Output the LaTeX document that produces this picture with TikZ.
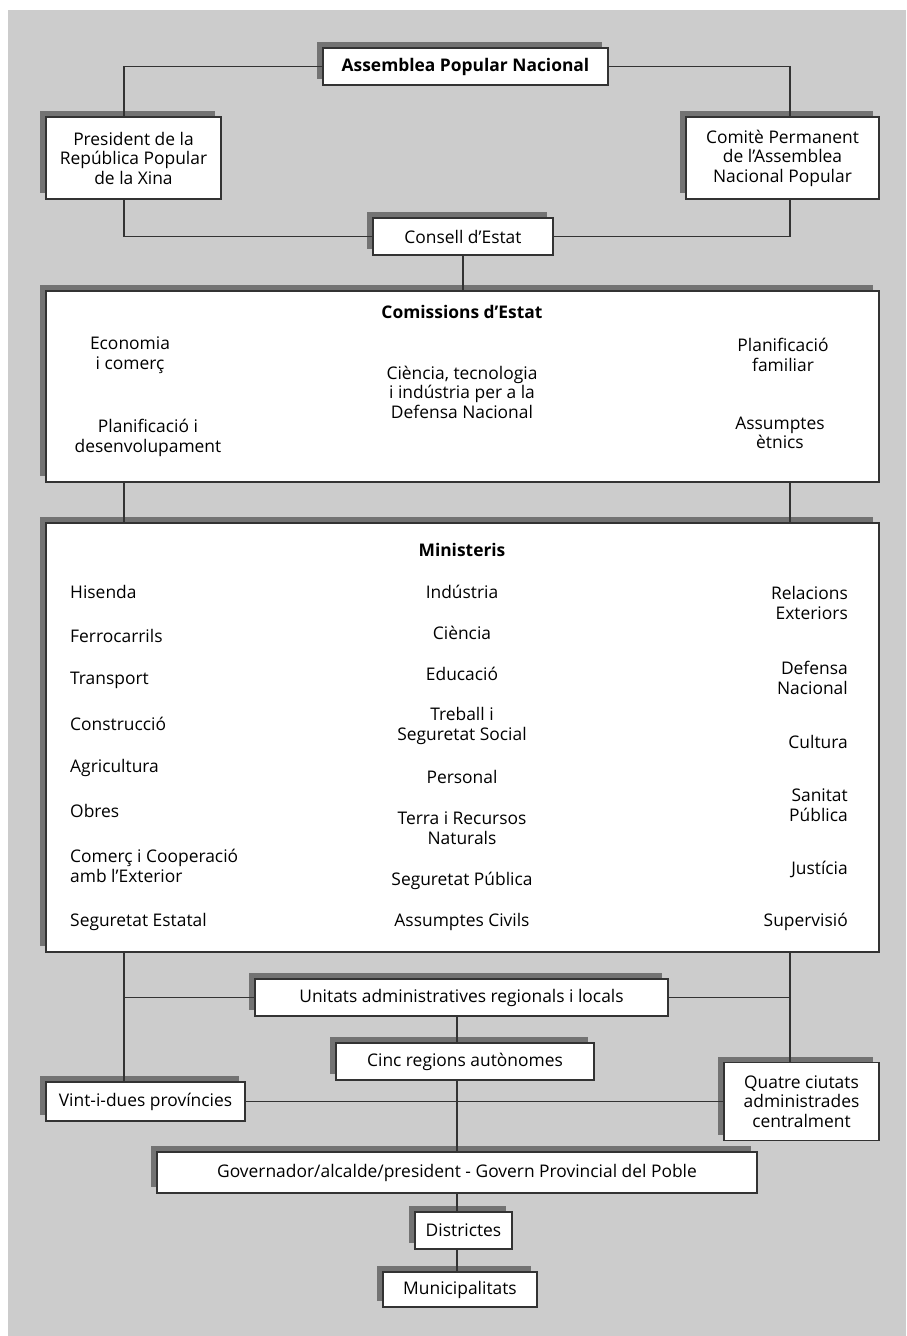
\documentclass[tikz,border=0pt]{standalone}
\usepackage{fontspec}
\setmainfont{Open Sans}
\usetikzlibrary{positioning, shadows}

\definecolor{fons}{HTML}{CCCCCC}
\definecolor{ombra}{HTML}{737373}
\definecolor{vora}{HTML}{333333}

\tikzset{
    caixa/.style={draw=vora, line width=1.4pt, fill=white, align=center, inner sep=0pt,
        drop shadow={shadow xshift=-6pt, shadow yshift=6pt, fill=ombra, opacity=1}},
    linia/.style={draw=vora, line width=1.3pt},
    txt/.style={align=center, inner sep=0pt},
}

\begin{document}
\begin{tikzpicture}[x=1pt, y=-1pt, font=\fontsize{17.4}{19.5}\selectfont]
    % Fons
    \useasboundingbox (0,0) rectangle (906,1336);
    \fill[fons] (8,10) rectangle (906,1336);

    % Eixos verticals dels connectors
    \coordinate (eixE) at (124,0);
    \coordinate (eixD) at (790,0);
    \coordinate (eixC) at (457,0);

    % Caixes de dalt
    \node[caixa, minimum width=285pt, minimum height=37pt] (apn) at (465.5,66.5) {\bfseries Assemblea Popular Nacional};
    \node[caixa, minimum width=175pt, minimum height=82pt] (pres) at (133.5,158) {President de la\\República Popular\\de la Xina};
    \node[caixa, minimum width=193pt, minimum height=82pt] (comite) at (782.5,158) {Comitè Permanent\\de l’Assemblea\\Nacional Popular};
    \node[caixa, minimum width=180pt, minimum height=37pt] (consell) at (463,236.5) {Consell d’Estat};

    % Comissions d'Estat
    \node[caixa, minimum width=833pt, minimum height=191pt] (comissions) at (462.5,386.5) {};
    \node[txt] (tcom) at (462,312) {\bfseries Comissions d’Estat};
    \node[txt] (c1) at (130,355) {Economia\\i comerç};
    \node[txt] (c2) at (148,438) {Planificació i\\desenvolupament};
    \node[txt] (c3) at (462,392) {Ciència, tecnologia\\i indústria per a la\\Defensa Nacional};
    \node[txt] (c4) at (783,355) {Planificació\\familiar};
    \node[txt] (c5) at (780,433) {Assumptes\\ètnics};

    % Ministeris
    \node[caixa, minimum width=833pt, minimum height=429pt] (ministeris) at (462.5,737.5) {};
    \node[txt] (tmin) at (462,550) {\bfseries Ministeris};
    \foreach \nom/\y [count=\i] in {Hisenda/592, Ferrocarrils/636, Transport/680,
        Construcció/724, Agricultura/768, Obres/811,
        {Comerç i Cooperació\\amb l’Exterior}/866, Seguretat Estatal/922}
        \node[txt, align=left, anchor=west] (me\i) at (70,\y) {\nom};
    \foreach \nom/\y [count=\i] in {Indústria/592, Ciència/633, Educació/674,
        {Treball i\\Seguretat Social}/726, Personal/777,
        {Terra i Recursos\\Naturals}/828, Seguretat Pública/881, Assumptes Civils/922}
        \node[txt] (mc\i) at (462,\y) {\nom};
    \foreach \nom/\y [count=\i] in {{Relacions\\Exteriors}/603, {Defensa\\Nacional}/678,
        Cultura/742, {Sanitat\\Pública}/805, Justícia/869, Supervisió/922}
        \node[txt, align=right, anchor=east] (md\i) at (848,\y) {\nom};

    % Administracio regional i local
    \node[caixa, minimum width=413pt, minimum height=37pt] (unitats) at (461.5,997.5) {Unitats administratives regionals i locals};
    \node[caixa, minimum width=258pt, minimum height=37pt] (cinc) at (465,1061.5) {Cinc regions autònomes};
    \node[caixa, minimum width=199pt, minimum height=39pt] (vint) at (145.5,1101.5) {Vint-i-dues províncies};
    \node[caixa, minimum width=155pt, minimum height=78pt] (quatre) at (801.5,1101.5) {Quatre ciutats\\administrades\\centralment};
    \node[caixa, minimum width=600pt, minimum height=41pt] (governador) at (457,1172.5) {Governador/alcalde/president - Govern Provincial del Poble};
    \node[caixa, minimum width=97pt, minimum height=37pt] (districtes) at (463.5,1230.5) {Districtes};
    \node[caixa, minimum width=154pt, minimum height=35pt] (municipis) at (460,1289.5) {Municipalitats};

    % Connectors
    \draw[linia] (apn.west) -| (pres.north -| eixE);
    \draw[linia] (apn.east) -| (comite.north -| eixD);
    \draw[linia] (pres.south -| eixE) |- (consell.west);
    \draw[linia] (comite.south -| eixD) |- (consell.east);
    \draw[linia] (consell.south) -- (consell.south |- comissions.north);
    \draw[linia] (comissions.south -| eixE) -- (ministeris.north -| eixE);
    \draw[linia] (comissions.south -| eixD) -- (ministeris.north -| eixD);
    \draw[linia] (ministeris.south -| eixE) -- (vint.north -| eixE);
    \draw[linia] (ministeris.south -| eixD) -- (quatre.north -| eixD);
    \draw[linia] (unitats.west) -- (unitats.west -| eixE);
    \draw[linia] (unitats.east) -- (unitats.east -| eixD);
    \draw[linia] (unitats.south -| eixC) -- (cinc.north -| eixC);
    \draw[linia] (cinc.south -| eixC) -- (governador.north -| eixC);
    \draw[linia] (vint.east) -- (quatre.west);
    \draw[linia] (governador.south -| eixC) -- (districtes.north -| eixC);
    \draw[linia] (districtes.south -| eixC) -- (municipis.north -| eixC);
\end{tikzpicture}
\end{document}
